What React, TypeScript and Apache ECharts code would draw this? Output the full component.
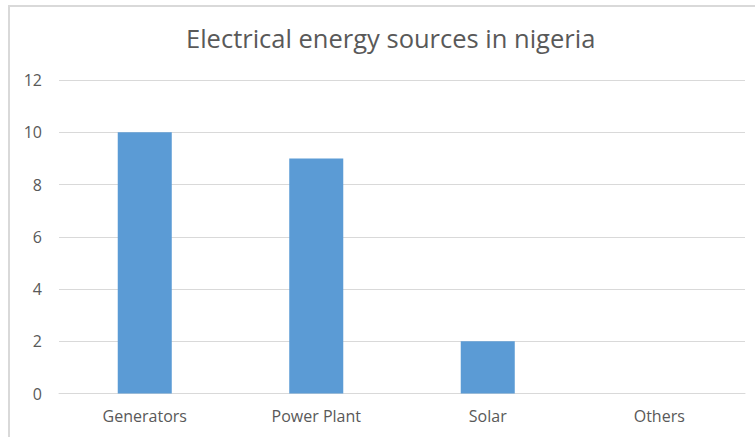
import React, { useEffect, useRef } from "react";
import * as echarts from "echarts";

const categories = ["Generators", "Power Plant", "Solar", "Others"];
const values = [10, 9, 2, 0];
const yTicks = { min: 0, max: 12, interval: 2 };
const title = "Electrical energy sources in nigeria";

export default function App() {
  const ref = useRef<HTMLDivElement>(null);
  useEffect(() => {
    if (!ref.current) return;
    const chart = echarts.init(ref.current, undefined, { renderer: "svg" });
    chart.setOption({
      animation: false,
      backgroundColor: "#ffffff",
      title: {
        text: title,
        left: 181,
        top: 20,
        textStyle: { fontFamily: "Open Sans", fontSize: 25.5, fontWeight: 400, color: "#595959" },
      },
      graphic: [
        {
          type: "rect",
          shape: { x: 9, y: 6, width: 800, height: 500 },
          style: { fill: "none", stroke: "#d9d9d9", lineWidth: 2 },
          silent: true,
        },
      ],
      grid: { left: 59, right: 10, top: 80, bottom: 43.5, containLabel: false },
      xAxis: {
        type: "category",
        data: categories,
        axisLine: { show: true, lineStyle: { color: "#d9d9d9", width: 1 } },
        axisTick: { show: false },
        axisLabel: { color: "#595959", fontFamily: "Open Sans", fontSize: 16, margin: 14 },
      },
      yAxis: {
        type: "value",
        min: yTicks.min,
        max: yTicks.max,
        interval: yTicks.interval,
        axisLine: { show: false },
        axisTick: { show: false },
        splitLine: { lineStyle: { color: "#d9d9d9", width: 1 } },
        axisLabel: { color: "#595959", fontFamily: "Open Sans", fontSize: 16, margin: 17 },
      },
      series: [
        {
          type: "bar",
          data: values,
          barWidth: "31.5%",
          itemStyle: { color: "#5b9bd5" },
        },
      ],
    });
    return () => chart.dispose();
  }, []);
  return (
    <div
      ref={ref}
      style={{ position: "fixed", left: 0, top: 0, width: 755, height: 437 }}
    />
  );
}
